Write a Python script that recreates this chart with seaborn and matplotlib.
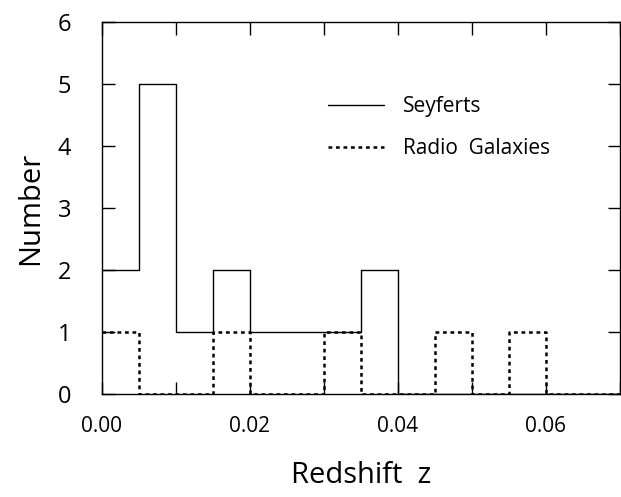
import numpy as np
import pandas as pd
import seaborn as sns
import matplotlib.pyplot as plt
from matplotlib.ticker import MultipleLocator

# bin left edges (width 0.005) and counts per bin
bin_edges = [0.000, 0.005, 0.010, 0.015, 0.020, 0.025, 0.030, 0.035,
             0.040, 0.045, 0.050, 0.055, 0.060, 0.065, 0.070]
seyfert_counts = [2, 5, 1, 2, 1, 1, 1, 2, 0, 0, 0, 0, 0, 0]
radio_counts = [1, 0, 0, 1, 0, 0, 1, 0, 0, 1, 0, 1, 0, 0]

x_ticklabels = ['0.00', '0.02', '0.04', '0.06']


def main():
	sns.set_style('ticks')
	plt.rcParams['font.family'] = ['Open Sans', 'DejaVu Sans']
	plt.rcParams['text.color'] = 'black'
	plt.rcParams['axes.labelcolor'] = 'black'

	centers = [(a + b) / 2 for a, b in zip(bin_edges[:-1], bin_edges[1:])]
	df = pd.DataFrame({'z': centers, 'sey': seyfert_counts, 'radio': radio_counts})

	fig = plt.figure(figsize=(6.21, 4.97), dpi=100)
	ax = fig.add_axes([0.164, 0.207, 0.834, 0.749])

	sns.histplot(data=df, x='z', weights='sey', bins=bin_edges, element='step',
				 fill=False, color='black', linewidth=1.0, ax=ax, label='Seyferts')
	sns.histplot(data=df, x='z', weights='radio', bins=bin_edges, element='step',
				 fill=False, color='black', linewidth=1.8, linestyle=(0, (1.5, 1.5)),
				 ax=ax, label='Radio  Galaxies')

	ax.set_xlim(0, 0.07)
	ax.set_ylim(0, 6)
	ax.xaxis.set_minor_locator(MultipleLocator(0.01))
	ax.set_xticks([0, 0.02, 0.04, 0.06])
	ax.set_xticklabels(x_ticklabels)
	ax.yaxis.set_major_locator(MultipleLocator(1))
	ax.tick_params(which='both', direction='in', top=True, right=True,
				   length=9, width=1, color='black', labelcolor='black')
	ax.tick_params(axis='x', labelsize=15, pad=16)
	ax.tick_params(axis='y', labelsize=17, pad=22)
	for s in ax.spines.values():
		s.set_visible(True)
		s.set_linewidth(1)
		s.set_color('black')

	ax.set_xlabel('Redshift  z', fontsize=21, labelpad=17)
	ax.set_ylabel('Number', fontsize=21, labelpad=9)

	ax.legend(loc='upper left', bbox_to_anchor=(0.40, 0.85), frameon=False,
			  fontsize=15, handlelength=2.7, handletextpad=0.9, labelspacing=1.0)

	fig.savefig('out.png', dpi=100)


if __name__ == '__main__':
	main()
